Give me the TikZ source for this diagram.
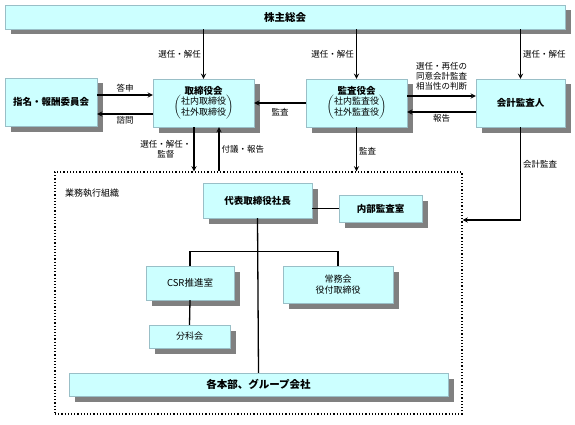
\documentclass[tikz,border=0pt]{standalone}
\usepackage{fontspec}
\usepackage{tikz}
\usetikzlibrary{positioning,shadows}
\setmainfont{Noto Sans CJK JP}
\definecolor{c_fill}{rgb}{0.8, 1.0, 1.0}
\definecolor{c_line}{rgb}{0.6, 0.75, 0.78}
\definecolor{c_shadow}{rgb}{0.5, 0.5, 0.5}
\tikzset{c-box/.style={rectangle, draw=c_line, fill=c_fill, inner sep=1pt, align=center, text centered,
drop shadow={shadow xshift=5.5pt, shadow yshift=-5.5pt, fill=c_shadow, opacity=1},
font=\fontsize{9.5}{11.5}\selectfont\bfseries},
c-box2/.style={c-box, font=\fontsize{9}{11}\selectfont},
c-label/.style={inner sep=2pt, align=center, font=\fontsize{8.5}{10}\selectfont},
c-line/.style={line width=1.3pt},
arrow/.style={line width=1.3pt,->,>=stealth}}
\newcommand{\brk}[2]{{\mdseries\fontsize{9}{11}\selectfont\renewcommand{\arraystretch}{0.85}$\left(\begin{tabular}{@{}c@{}}#1\\#2\end{tabular}\right)$}}

\begin{document}
\begin{tikzpicture}[x=1pt, y=-1pt]
\useasboundingbox (0,0) rectangle (575,425);
\node (n0) [c-box, minimum width=560pt, minimum height=24pt, font=\fontsize{10.5}{12}\selectfont\bfseries] at (285,17) {株主総会};
\node (n1) [c-box, minimum width=92pt, minimum height=48pt] at (51,102) {指名・報酬委員会};
\node (n2) [c-box, minimum width=101pt, minimum height=48pt] at (203.5,103) {取締役会\\[-1pt]\brk{社内取締役}{社外取締役}};
\node (n3) [c-box, minimum width=101pt, minimum height=48pt] at (356.5,103) {監査役会\\[-1pt]\brk{社内監査役}{社外監査役}};
\node (n4) [c-box, minimum width=89pt, minimum height=48pt] at (520.5,103) {会計監査人};
\node (org) [draw, dotted, line width=1.2pt, inner sep=0pt, minimum width=407pt, minimum height=242pt] at (258.5,293) {};
\node (t0) [c-label, anchor=west, font=\fontsize{9}{10}\selectfont] at (63,193) {業務執行組織};
\node (n5) [c-box, minimum width=109pt, minimum height=35pt] at (257.5,200.5) {代表取締役社長};
\node (n6) [c-box, minimum width=83pt, minimum height=27pt] at (380.5,208.5) {内部監査室};
\node (n7) [c-box2, minimum width=88pt, minimum height=34pt, font=\fontsize{9.5}{11}\selectfont] at (190,283) {CSR推進室};
\node (n8) [c-box2, minimum width=110pt, minimum height=37pt] at (338,284.5) {常務会\\役付取締役};
\node (n9) [c-box2, minimum width=81pt, minimum height=23pt] at (189.5,336.5) {分科会};
\node (n10) [c-box, minimum width=379pt, minimum height=23pt, font=\fontsize{10.5}{12}\selectfont\bfseries] at (258.5,384.5) {各本部、グループ会社};
\coordinate (d1) at ([xshift=-9.5pt]n2.south);
\coordinate (d2) at ([xshift=15.5pt]n2.south);
\coordinate (k1) at ([yshift=73pt]org.east);
\draw [arrow] (n0.south -| n2.north) -- node[c-label, left] {選任・解任} (n2.north);
\draw [arrow] (n0.south -| n3.north) -- node[c-label, left] {選任・解任} (n3.north);
\draw [arrow] (n0.south -| n4.north) -- node[c-label, right] {選任・解任} (n4.north);
\draw [arrow] ([yshift=7pt]n1.east) -- node[c-label, above] {答申} ([yshift=7pt]n1.east -| n2.west);
\draw [arrow] ([yshift=-11pt]n2.west) -- node[c-label, below] {諮問} ([yshift=-11pt]n2.west -| n1.east);
\draw [arrow] (n3.west) -- node[c-label, below=3pt] {監査} (n2.east);
\draw [arrow] ([yshift=7pt]n3.east) -- node[c-label, above=3pt] {選任・再任の\\同意会計監査\\相当性の判断} ([yshift=7pt]n3.east -| n4.west);
\draw [arrow] ([yshift=-9pt]n4.west) -- node[c-label, below] {報告} ([yshift=-9pt]n4.west -| n3.east);
\draw [arrow] (d1) -- node[c-label, left] {選任・解任・\\監督} (d1 |- org.north);
\draw [arrow] (d2 |- org.north) -- node[c-label, right] {付議・報告} (d2);
\draw [arrow] (n3.south) -- node[c-label, right, pos=.55] {監査} (n3.south |- org.north);
\draw [arrow] (n4.south) |- node[c-label, right, pos=.2] {会計監査} (k1);
\draw [c-line] (n5.east |- n6.west) -- (n6.west);
\draw [c-line] (n5.south) -- (n10.north);
\draw [c-line] (n7.north) -- ++(0,-14) -| (n8.north);
\draw [c-line] (n7.south) -- (n9.north);
\end{tikzpicture}
\end{document}
